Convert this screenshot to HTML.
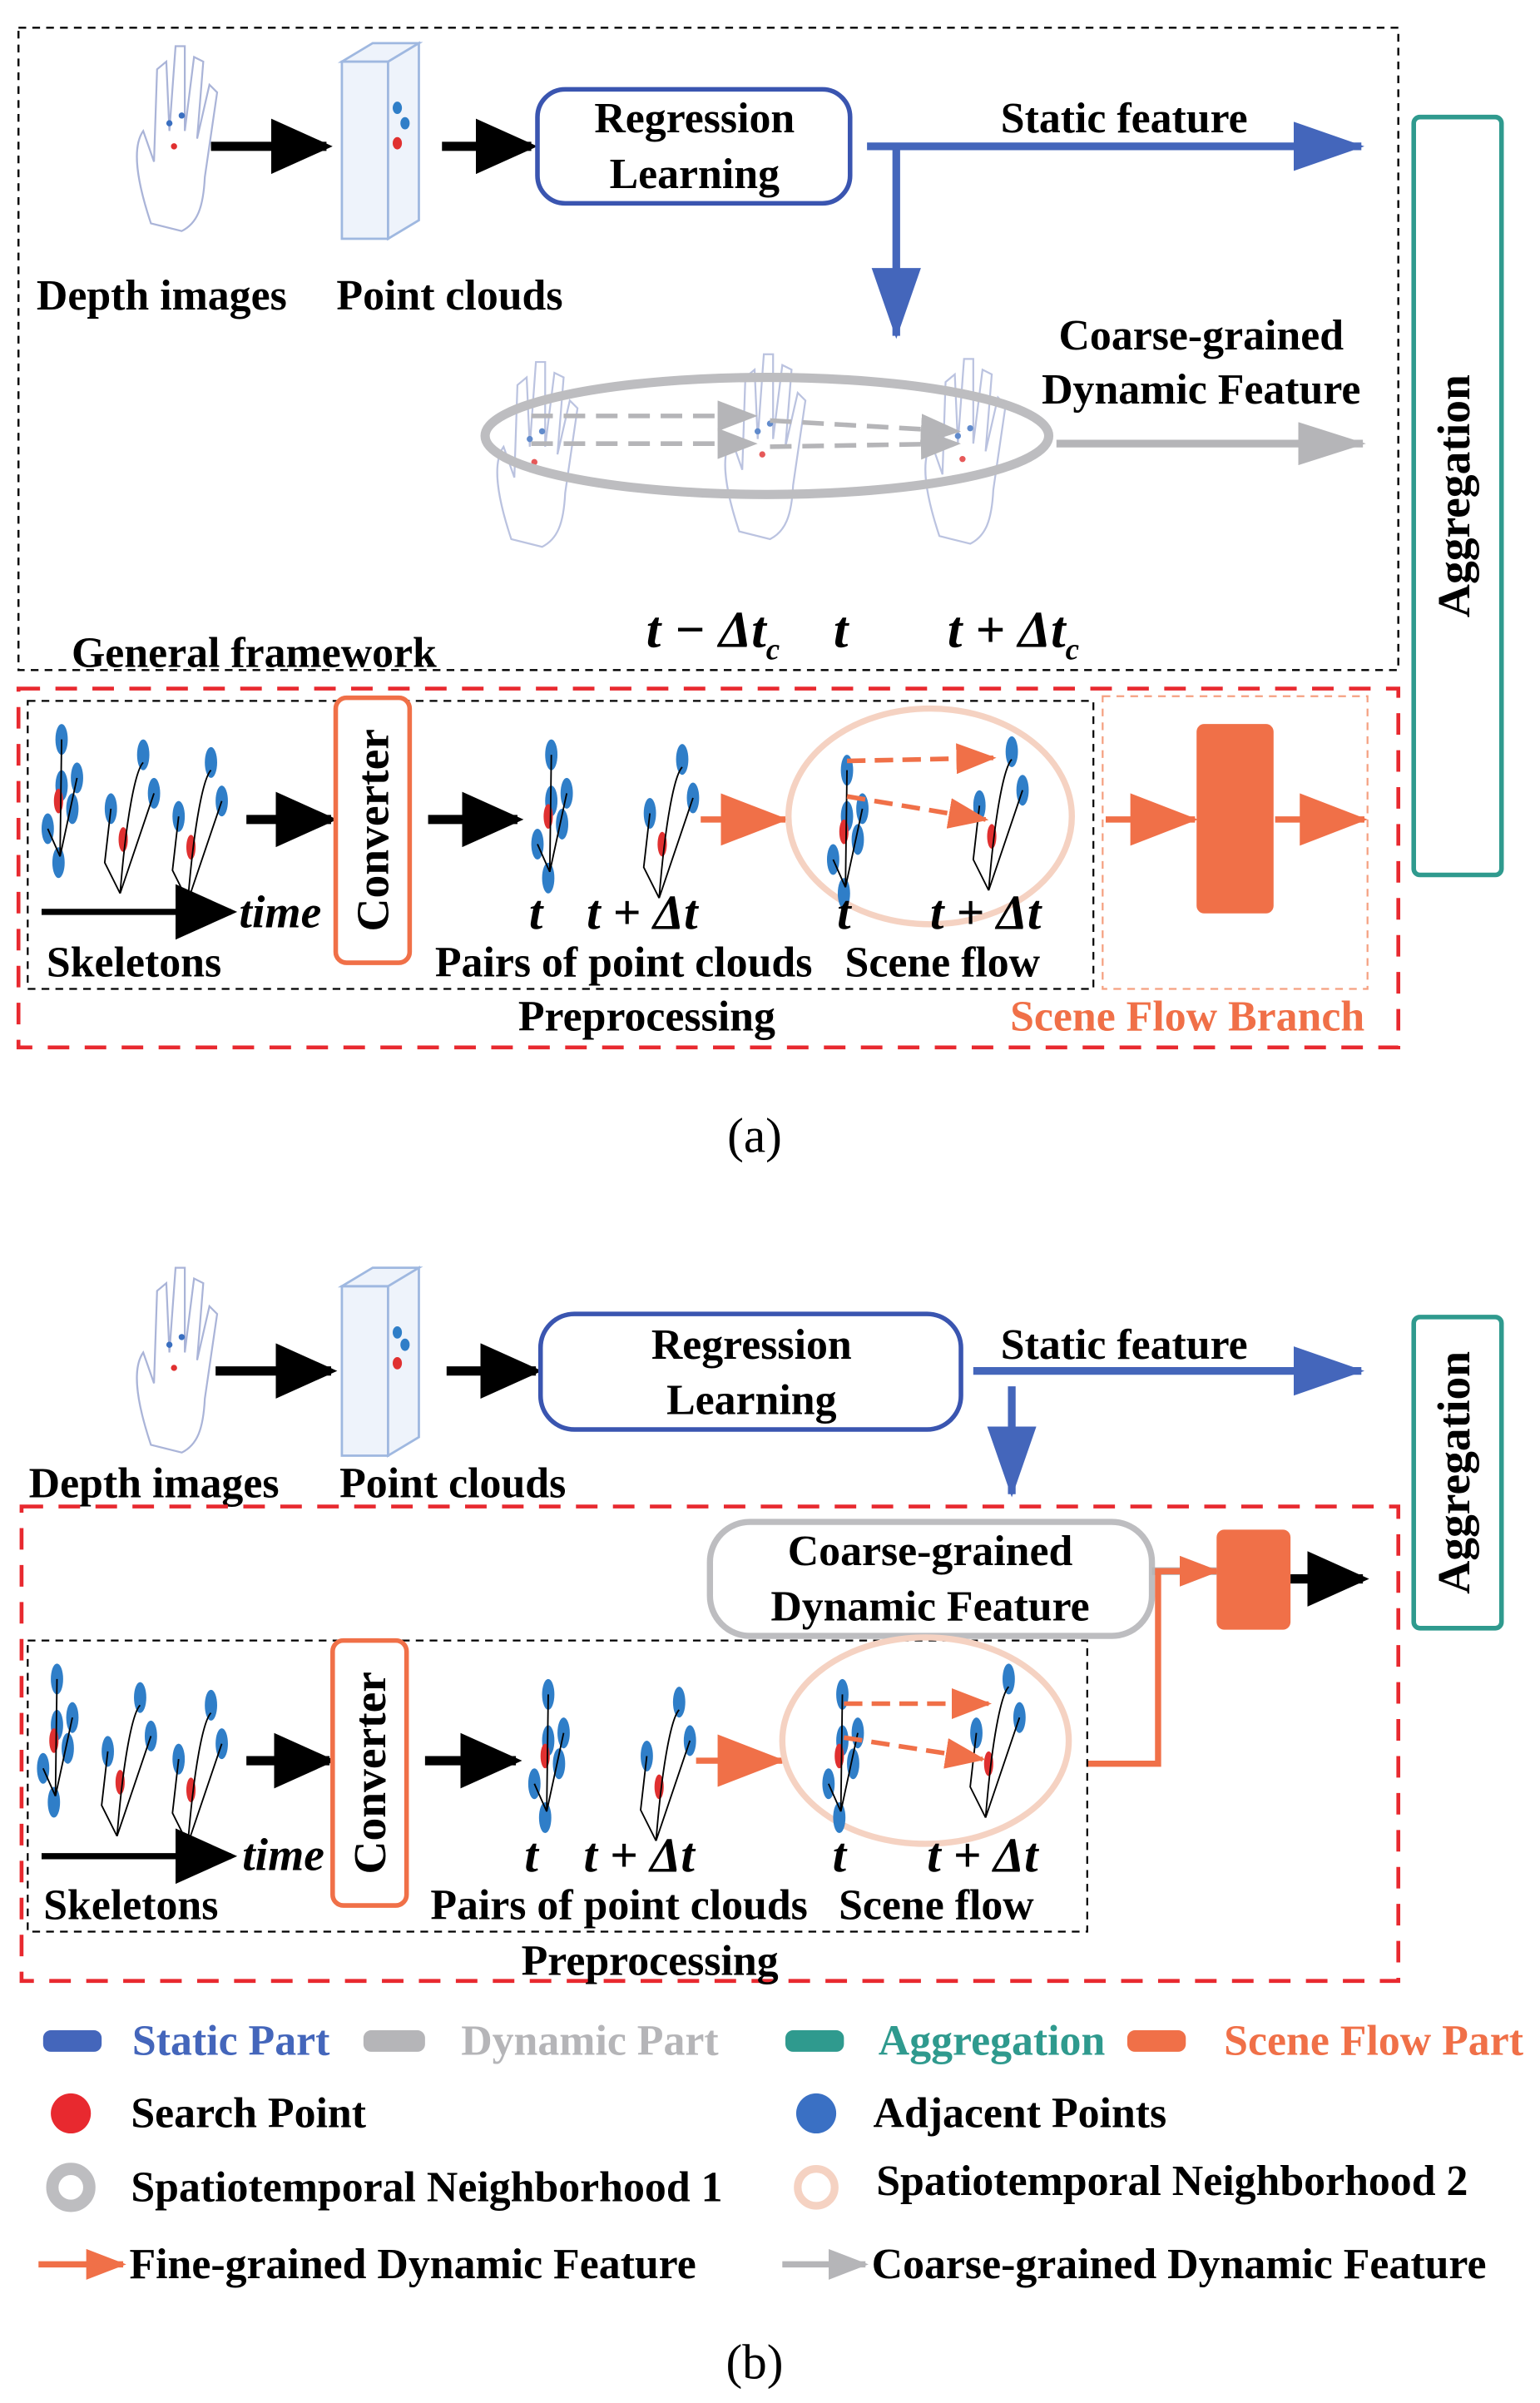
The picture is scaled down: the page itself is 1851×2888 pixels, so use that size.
<!DOCTYPE html>
<html><head><meta charset="utf-8"><style>
html,body{margin:0;padding:0;background:#fff}
svg{display:block}
text{font-family:"Liberation Serif",serif;font-weight:bold;fill:#000}
</style></head><body>
<svg width="1851" height="2888" viewBox="0 0 1000 1560" preserveAspectRatio="none" xmlns="http://www.w3.org/2000/svg">
<defs>
<marker id="ab" markerWidth="40" markerHeight="36" refX="36" refY="18" orient="auto" markerUnits="userSpaceOnUse"><path d="M0,0L40,18L0,36z" fill="#000"/></marker>
<marker id="abl" markerWidth="46" markerHeight="32" refX="44" refY="16" orient="auto" markerUnits="userSpaceOnUse"><path d="M0,0L46,16L0,32z" fill="#4466bb"/></marker>
<marker id="agr" markerWidth="44" markerHeight="28" refX="42" refY="14" orient="auto" markerUnits="userSpaceOnUse"><path d="M0,0L44,14L0,28z" fill="#b5b5b8"/></marker>
<marker id="agrs" markerWidth="26" markerHeight="20" refX="24" refY="10" orient="auto" markerUnits="userSpaceOnUse"><path d="M0,0L26,10L0,20z" fill="#b5b5b8"/></marker>
<marker id="aor" markerWidth="44" markerHeight="34" refX="42" refY="17" orient="auto" markerUnits="userSpaceOnUse"><path d="M0,0L44,17L0,34z" fill="#f07048"/></marker>
<marker id="aors" markerWidth="26" markerHeight="20" refX="24" refY="10" orient="auto" markerUnits="userSpaceOnUse"><path d="M0,0L26,10L0,20z" fill="#f07048"/></marker>
<g id="hand" fill="none" stroke="#aab4d8" stroke-width="1.2">
<path d="M10,120 C0,90 -2,70 5,60 L12,80 L14,20 L20,15 L22,60 L26,5 L32,5 L32,60 L38,12 L44,15 L40,65 L48,30 L53,35 L45,90 C44,110 40,120 30,125 Z"/>
<circle cx="22" cy="55" r="2" fill="#3a6fc0" stroke="none"/><circle cx="30" cy="50" r="2" fill="#3a6fc0" stroke="none"/><circle cx="25" cy="70" r="2" fill="#e03030" stroke="none"/>
</g>
<g id="skel">
<ellipse cx="15" cy="0" rx="4" ry="10" fill="#2f7ec8"/><ellipse cx="15" cy="30" rx="4" ry="10" fill="#2f7ec8"/><ellipse cx="25" cy="25" rx="4" ry="10" fill="#2f7ec8"/><ellipse cx="22" cy="45" rx="4" ry="10" fill="#2f7ec8"/><ellipse cx="6" cy="58" rx="4" ry="10" fill="#2f7ec8"/><ellipse cx="13" cy="80" rx="4" ry="10" fill="#2f7ec8"/><ellipse cx="13" cy="40" rx="3" ry="8" fill="#e03030"/>
<path d="M15,0 L14,76 L25,25 M14,76 L6,58" stroke="#000" stroke-width="1" fill="none"/>
</g>
<g id="skel2">
<ellipse cx="25" cy="0" rx="4" ry="10" fill="#2f7ec8"/><ellipse cx="32" cy="25" rx="4" ry="10" fill="#2f7ec8"/><ellipse cx="4" cy="35" rx="4" ry="10" fill="#2f7ec8"/><ellipse cx="12" cy="55" rx="3" ry="8" fill="#e03030"/>
<path d="M25,5 C20,10 14,40 10,90 L32,25 M10,90 L0,70 L4,35" stroke="#000" stroke-width="1" fill="none"/>
</g>
</defs>

<!-- ===== (a) ===== -->
<rect x="12" y="18" width="896" height="417" fill="none" stroke="#000" stroke-width="1.3" stroke-dasharray="5,4"/>
<use href="#hand" x="88" y="25"/>
<rect x="222" y="40" width="30" height="115" fill="#eef3fb" stroke="#9fb8e0" stroke-width="1.5"/>
<path d="M222,40 L242,28 L272,28 L252,40 Z M252,40 L272,28 L272,143 L252,155 Z" fill="#eef3fb" stroke="#9fb8e0" stroke-width="1.5"/>
<ellipse cx="258" cy="70" rx="3" ry="4" fill="#2f7ec8"/><ellipse cx="263" cy="80" rx="3" ry="4" fill="#2f7ec8"/><ellipse cx="258" cy="93" rx="3" ry="4" fill="#e03030"/>
<line x1="137" y1="95" x2="212" y2="95" stroke="#000" stroke-width="6" marker-end="url(#ab)"/>
<line x1="287" y1="95" x2="345" y2="95" stroke="#000" stroke-width="6" marker-end="url(#ab)"/>
<rect x="349" y="58" width="203" height="74" rx="18" fill="#fff" stroke="#3a55b0" stroke-width="3"/>
<text x="451" y="86" font-size="28" text-anchor="middle">Regression</text>
<text x="451" y="122" font-size="28" text-anchor="middle">Learning</text>
<text x="105" y="201" font-size="28" text-anchor="middle">Depth images</text>
<text x="292" y="201" font-size="28" text-anchor="middle">Point clouds</text>
<line x1="563" y1="95" x2="884" y2="95" stroke="#4466bb" stroke-width="5" marker-end="url(#abl)"/>
<text x="730" y="86" font-size="28" text-anchor="middle">Static feature</text>
<line x1="582" y1="95" x2="582" y2="218" stroke="#4466bb" stroke-width="5" marker-end="url(#abl)"/>
<use href="#hand" x="322" y="230" opacity="0.8"/>
<use href="#hand" x="470" y="225" opacity="0.8"/>
<use href="#hand" x="600" y="228" opacity="0.8"/>
<ellipse cx="498" cy="283" rx="183" ry="38" fill="none" stroke="#bdbdc0" stroke-width="6"/>
<line x1="345" y1="270" x2="490" y2="270" stroke="#b5b5b8" stroke-width="3" stroke-dasharray="14,7" marker-end="url(#agrs)"/>
<line x1="345" y1="288" x2="490" y2="288" stroke="#b5b5b8" stroke-width="3" stroke-dasharray="14,7" marker-end="url(#agrs)"/>
<line x1="500" y1="273" x2="622" y2="280" stroke="#b5b5b8" stroke-width="3" stroke-dasharray="14,7" marker-end="url(#agrs)"/>
<line x1="500" y1="290" x2="622" y2="288" stroke="#b5b5b8" stroke-width="3" stroke-dasharray="14,7" marker-end="url(#agrs)"/>
<line x1="686" y1="288" x2="885" y2="288" stroke="#b5b5b8" stroke-width="5" marker-end="url(#agr)"/>
<text x="780" y="227" font-size="28" text-anchor="middle">Coarse-grained</text>
<text x="780" y="262" font-size="28" text-anchor="middle">Dynamic Feature</text>
<text x="463" y="420" font-size="34" text-anchor="middle" font-style="italic">t − Δt<tspan font-size="20" dy="8">c</tspan></text>
<text x="546" y="420" font-size="34" text-anchor="middle" font-style="italic">t</text>
<text x="658" y="420" font-size="34" text-anchor="middle" font-style="italic">t + Δt<tspan font-size="20" dy="8">c</tspan></text>
<text x="165" y="433" font-size="28" text-anchor="middle">General framework</text>

<rect x="12" y="447" width="896" height="233" fill="none" stroke="#e8292f" stroke-width="2.5" stroke-dasharray="14,10"/>
<rect x="18" y="455" width="692" height="187" fill="none" stroke="#000" stroke-width="1.2" stroke-dasharray="5,4"/>
<use href="#skel" x="25" y="480"/><use href="#skel2" x="68" y="490"/><use href="#skel2" x="112" y="495"/>
<line x1="27" y1="592" x2="150" y2="592" stroke="#000" stroke-width="4" marker-end="url(#ab)"/>
<text x="182" y="602" font-size="30" text-anchor="middle" font-style="italic">time</text>
<text x="87" y="634" font-size="28" text-anchor="middle">Skeletons</text>
<line x1="160" y1="532" x2="215" y2="532" stroke="#000" stroke-width="6" marker-end="url(#ab)"/>
<rect x="218" y="453" width="48" height="172" rx="7" fill="#fff" stroke="#f07048" stroke-width="3"/>
<text transform="translate(252,539) rotate(-90)" font-size="30" text-anchor="middle">Converter</text>
<line x1="278" y1="532" x2="336" y2="532" stroke="#000" stroke-width="6" marker-end="url(#ab)"/>
<use href="#skel" x="343" y="490"/>
<use href="#skel2" x="418" y="493"/>
<line x1="455" y1="532" x2="510" y2="532" stroke="#f07048" stroke-width="4" marker-end="url(#aor)"/>
<ellipse cx="604" cy="530" rx="92" ry="70" fill="none" stroke="#f5d2c2" stroke-width="4"/>
<use href="#skel" x="535" y="500"/><use href="#skel2" x="632" y="488"/>
<line x1="550" y1="494" x2="645" y2="492" stroke="#f07048" stroke-width="3" stroke-dasharray="12,6" marker-end="url(#aors)"/>
<line x1="550" y1="517" x2="640" y2="532" stroke="#f07048" stroke-width="3" stroke-dasharray="12,6" marker-end="url(#aors)"/>
<text x="348" y="603" font-size="32" text-anchor="middle" font-style="italic">t</text>
<text x="417" y="603" font-size="32" text-anchor="middle" font-style="italic">t + Δt</text>
<text x="548" y="603" font-size="32" text-anchor="middle" font-style="italic">t</text>
<text x="640" y="603" font-size="32" text-anchor="middle" font-style="italic">t + Δt</text>
<text x="405" y="634" font-size="28" text-anchor="middle">Pairs of point clouds</text>
<text x="612" y="634" font-size="28" text-anchor="middle">Scene flow</text>
<text x="420" y="669" font-size="28" text-anchor="middle">Preprocessing</text>
<rect x="716" y="452" width="172" height="190" fill="none" stroke="#f5a080" stroke-width="1.2" stroke-dasharray="5,4"/>
<line x1="718" y1="532" x2="776" y2="532" stroke="#f07048" stroke-width="4" marker-end="url(#aor)"/>
<rect x="777" y="470" width="50" height="123" rx="5" fill="#f07048"/>
<line x1="828" y1="532" x2="886" y2="532" stroke="#f07048" stroke-width="4" marker-end="url(#aor)"/>
<text x="771" y="669" font-size="28" text-anchor="middle" style="fill:#f07048">Scene Flow Branch</text>
<rect x="918" y="76" width="57" height="492" rx="4" fill="#fff" stroke="#2f9a8e" stroke-width="3"/>
<text transform="translate(954,322) rotate(-90)" font-size="30" text-anchor="middle">Aggregation</text>
<text x="490" y="748" font-size="32" text-anchor="middle" style="font-weight:normal">(a)</text>

<!-- ===== (b) ===== -->
<use href="#hand" x="88" y="818"/>
<rect x="222" y="835" width="30" height="110" fill="#eef3fb" stroke="#9fb8e0" stroke-width="1.5"/>
<path d="M222,835 L242,823 L272,823 L252,835 Z M252,835 L272,823 L272,933 L252,945 Z" fill="#eef3fb" stroke="#9fb8e0" stroke-width="1.5"/>
<ellipse cx="258" cy="865" rx="3" ry="4" fill="#2f7ec8"/><ellipse cx="263" cy="873" rx="3" ry="4" fill="#2f7ec8"/><ellipse cx="258" cy="885" rx="3" ry="4" fill="#e03030"/>
<line x1="140" y1="890" x2="215" y2="890" stroke="#000" stroke-width="6" marker-end="url(#ab)"/>
<line x1="290" y1="890" x2="348" y2="890" stroke="#000" stroke-width="6" marker-end="url(#ab)"/>
<rect x="351" y="853" width="273" height="75" rx="22" fill="#fff" stroke="#3a55b0" stroke-width="3"/>
<text x="488" y="882" font-size="28" text-anchor="middle">Regression</text>
<text x="488" y="918" font-size="28" text-anchor="middle">Learning</text>
<text x="100" y="972" font-size="28" text-anchor="middle">Depth images</text>
<text x="294" y="972" font-size="28" text-anchor="middle">Point clouds</text>
<line x1="632" y1="890" x2="884" y2="890" stroke="#4466bb" stroke-width="5" marker-end="url(#abl)"/>
<text x="730" y="882" font-size="28" text-anchor="middle">Static feature</text>
<line x1="657" y1="900" x2="657" y2="970" stroke="#4466bb" stroke-width="5" marker-end="url(#abl)"/>
<rect x="14" y="978" width="894" height="308" fill="none" stroke="#e8292f" stroke-width="2.5" stroke-dasharray="14,10"/>
<rect x="461" y="988" width="287" height="74" rx="26" fill="#fff" stroke="#bdbdc0" stroke-width="4"/>
<text x="604" y="1016" font-size="28" text-anchor="middle">Coarse-grained</text>
<text x="604" y="1052" font-size="28" text-anchor="middle">Dynamic Feature</text>
<line x1="748" y1="1020" x2="790" y2="1020" stroke="#b5b5b8" stroke-width="5" marker-end="url(#agrs)"/>
<polyline points="706,1145 752,1145 752,1020 790,1020" fill="none" stroke="#f07048" stroke-width="4" marker-end="url(#aors)"/>
<rect x="790" y="993" width="48" height="65" rx="5" fill="#f07048"/>
<line x1="838" y1="1025" x2="885" y2="1025" stroke="#000" stroke-width="6" marker-end="url(#ab)"/>
<rect x="18" y="1065" width="688" height="189" fill="none" stroke="#000" stroke-width="1.2" stroke-dasharray="5,4"/>
<use href="#skel" x="22" y="1090"/><use href="#skel2" x="66" y="1102"/><use href="#skel2" x="112" y="1107"/>
<line x1="27" y1="1205" x2="150" y2="1205" stroke="#000" stroke-width="4" marker-end="url(#ab)"/>
<text x="184" y="1214" font-size="30" text-anchor="middle" font-style="italic">time</text>
<text x="85" y="1246" font-size="28" text-anchor="middle">Skeletons</text>
<line x1="160" y1="1143" x2="214" y2="1143" stroke="#000" stroke-width="6" marker-end="url(#ab)"/>
<rect x="216" y="1065" width="48" height="172" rx="7" fill="#fff" stroke="#f07048" stroke-width="3"/>
<text transform="translate(250,1151) rotate(-90)" font-size="30" text-anchor="middle">Converter</text>
<line x1="276" y1="1143" x2="335" y2="1143" stroke="#000" stroke-width="6" marker-end="url(#ab)"/>
<use href="#skel" x="341" y="1100"/><use href="#skel2" x="416" y="1105"/>
<line x1="452" y1="1143" x2="508" y2="1143" stroke="#f07048" stroke-width="4" marker-end="url(#aor)"/>
<ellipse cx="601" cy="1130" rx="93" ry="67" fill="none" stroke="#f5d2c2" stroke-width="4"/>
<use href="#skel" x="532" y="1100"/><use href="#skel2" x="630" y="1090"/>
<line x1="548" y1="1106" x2="642" y2="1106" stroke="#f07048" stroke-width="3" stroke-dasharray="12,6" marker-end="url(#aors)"/>
<line x1="548" y1="1128" x2="638" y2="1142" stroke="#f07048" stroke-width="3" stroke-dasharray="12,6" marker-end="url(#aors)"/>
<text x="345" y="1215" font-size="32" text-anchor="middle" font-style="italic">t</text>
<text x="415" y="1215" font-size="32" text-anchor="middle" font-style="italic">t + Δt</text>
<text x="545" y="1215" font-size="32" text-anchor="middle" font-style="italic">t</text>
<text x="638" y="1215" font-size="32" text-anchor="middle" font-style="italic">t + Δt</text>
<text x="402" y="1246" font-size="28" text-anchor="middle">Pairs of point clouds</text>
<text x="608" y="1246" font-size="28" text-anchor="middle">Scene flow</text>
<text x="422" y="1282" font-size="28" text-anchor="middle">Preprocessing</text>
<rect x="918" y="855" width="57" height="202" rx="4" fill="#fff" stroke="#2f9a8e" stroke-width="3"/>
<text transform="translate(954,956) rotate(-90)" font-size="30" text-anchor="middle">Aggregation</text>

<!-- legend -->
<rect x="28" y="1318" width="38" height="14" rx="5" fill="#4466bb"/>
<text x="150" y="1334" font-size="28" text-anchor="middle" style="fill:#4466bb">Static Part</text>
<rect x="236" y="1318" width="40" height="14" rx="5" fill="#b5b5b8"/>
<text x="383" y="1334" font-size="28" text-anchor="middle" style="fill:#b5b5b8">Dynamic Part</text>
<rect x="510" y="1318" width="38" height="14" rx="5" fill="#2f9a8e"/>
<text x="644" y="1334" font-size="28" text-anchor="middle" style="fill:#2f9a8e">Aggregation</text>
<rect x="732" y="1318" width="38" height="14" rx="5" fill="#f07048"/>
<text x="892" y="1334" font-size="28" text-anchor="middle" style="fill:#f07048">Scene Flow Part</text>
<circle cx="46" cy="1372" r="13" fill="#e8292f"/>
<text x="85" y="1381" font-size="28">Search Point</text>
<circle cx="530" cy="1372" r="13" fill="#3a70c4"/>
<text x="567" y="1381" font-size="28">Adjacent Points</text>
<circle cx="46" cy="1420" r="12" fill="none" stroke="#bdbdc0" stroke-width="8"/>
<text x="85" y="1429" font-size="28">Spatiotemporal Neighborhood 1</text>
<circle cx="530" cy="1420" r="12" fill="none" stroke="#f5d2c2" stroke-width="5"/>
<text x="569" y="1425" font-size="28">Spatiotemporal Neighborhood 2</text>
<line x1="25" y1="1470" x2="80" y2="1470" stroke="#f07048" stroke-width="4" marker-end="url(#aors)"/>
<text x="84" y="1479" font-size="28">Fine-grained Dynamic Feature</text>
<line x1="508" y1="1470" x2="562" y2="1470" stroke="#b5b5b8" stroke-width="4" marker-end="url(#agrs)"/>
<text x="566" y="1479" font-size="28">Coarse-grained Dynamic Feature</text>
<text x="490" y="1544" font-size="32" text-anchor="middle" style="font-weight:normal">(b)</text>
</svg>
</body></html>
